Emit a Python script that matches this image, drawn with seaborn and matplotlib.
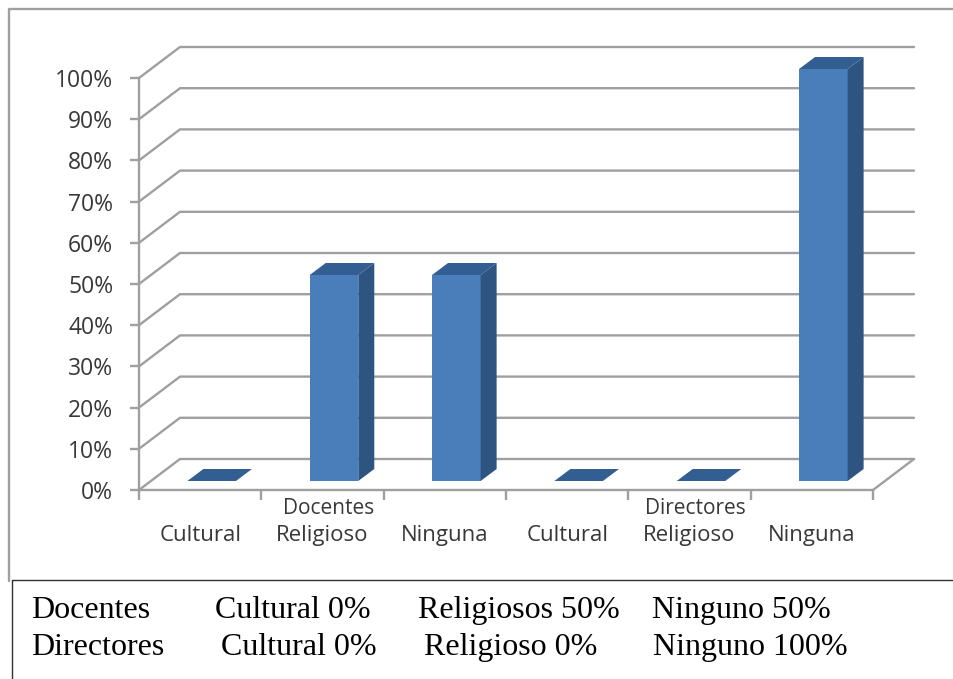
#!/usr/bin/env python3
"""Docentes / Directores percent bars drawn with a fake 3D depth, plus the small text table below."""

import numpy as np
import pandas as pd
import matplotlib
matplotlib.use("Agg")
import matplotlib.pyplot as plt
import seaborn as sns
from matplotlib.patches import Polygon
from matplotlib.transforms import Affine2D, IdentityTransform

# === Data ===
bar_keys = ["doc_cul", "doc_rel", "doc_nin", "dir_cul", "dir_rel", "dir_nin"]
bar_labels = ["Cultural", "Religioso", "Ninguna", "Cultural", "Religioso", "Ninguna"]
percent_values = [0, 50, 50, 0, 0, 100]
y_ticks = [0, 10, 20, 30, 40, 50, 60, 70, 80, 90, 100]
group_labels = ["Docentes", "Directores"]
table_rows = [
    ["Docentes", "Cultural 0%", "Religiosos 50%", "Ninguno 50%"],
    ["Directores", "Cultural 0%", "Religioso 0%", "Ninguno 100%"],
]

W, H = 954, 679
GRID = "#9f9f9f"
FRONT = "#4a7ebb"
SIDE = "#2e5482"
TOP = "#335e92"
LABEL = "#383838"

# wall depth and bar depth, in pixels
WALL = np.array([41, 31])
BAR_SHIFT = np.array([11.5, 9])
BAR_DEPTH = np.array([16, 12])


def px_x(x):
    return x / W


def px_y(y):
    return 1 - y / H


def main():
    sns.set_theme(style="white")
    plt.rcParams["font.family"] = ["Open Sans", "DejaVu Sans"]

    fig = plt.figure(figsize=(W / 100, H / 100), dpi=100)
    ax = fig.add_axes([px_x(139), px_y(490), (873 - 139) / W, 412 / H])
    ax.patch.set_visible(False)

    df = pd.DataFrame({"key": bar_keys, "value": percent_values})
    sns.barplot(data=df, x="key", y="value", color=FRONT, saturation=1,
                width=0.397, errorbar=None, linewidth=0, ax=ax, zorder=5)
    ax.set_xlim(-0.5, 5.5)
    ax.set_ylim(0, 100)
    ax.set_xlabel("")
    ax.set_ylabel("")

    # walls: back grid lines and the diagonal links to the front axis
    px = IdentityTransform()
    to_px = ax.transData.transform
    for tick in y_ticks:
        front = to_px((-0.5, tick))
        back_l = front + WALL
        back_r = to_px((5.5, tick)) + WALL
        ax.plot([front[0], back_l[0], back_r[0]], [front[1], back_l[1], back_r[1]],
                color=GRID, lw=1.7, transform=px, clip_on=False, zorder=1)
    floor_r = to_px((5.5, 0))
    ax.plot([floor_r[0], floor_r[0] + WALL[0]], [floor_r[1], floor_r[1] + WALL[1]],
            color=GRID, lw=1.7, transform=px, clip_on=False, zorder=1)

    # bars: move the front face in, then add side and top faces
    move = Affine2D().translate(*BAR_SHIFT)
    for patch in ax.patches:
        patch.set_transform(ax.transData + move)
        patch.set_clip_on(False)
        x0, w, h = patch.get_x(), patch.get_width(), patch.get_height()
        bl = to_px((x0, 0)) + BAR_SHIFT
        br = to_px((x0 + w, 0)) + BAR_SHIFT
        tl = to_px((x0, h)) + BAR_SHIFT
        tr = to_px((x0 + w, h)) + BAR_SHIFT
        if h > 0:
            ax.add_patch(Polygon([br, tr, tr + BAR_DEPTH, br + BAR_DEPTH], closed=True,
                                 fc=SIDE, ec="none", transform=px, clip_on=False, zorder=5))
        ax.add_patch(Polygon([tl, tr, tr + BAR_DEPTH, tl + BAR_DEPTH], closed=True,
                             fc=TOP, ec="none", transform=px, clip_on=False, zorder=5))

    # axes
    sns.despine(ax=ax, top=True, right=True)
    for side in ["left", "bottom"]:
        ax.spines[side].set_color(GRID)
        ax.spines[side].set_linewidth(1.7)
    ax.set_yticks(y_ticks, [f"{t}%" for t in y_ticks])
    ax.set_xticks(range(len(bar_labels)), bar_labels)
    ax.set_xticks(np.arange(-0.5, 6), minor=True)
    ax.tick_params(axis="y", length=6.5, width=1.7, color=GRID, pad=12,
                   labelsize=16.5, labelcolor=LABEL, left=True)
    ax.tick_params(axis="x", which="major", length=0, pad=25, labelsize=16, labelcolor=LABEL)
    ax.tick_params(axis="x", which="minor", length=7.5, width=1.7, color=GRID, bottom=True)
    for label in ax.get_xticklabels():
        label.set_x(label.get_position()[0])

    # group names sit above the middle label of each group
    for name, pos in zip(group_labels, [1.05, 4.05]):
        ax.annotate(name, xy=(pos, 0), xytext=(0, -19), xycoords="data", textcoords="offset pixels",
                    ha="center", va="center", fontsize=15, color=LABEL, annotation_clip=False)

    # outer chart frame
    fig.add_artist(plt.Line2D([px_x(9), px_x(9), 1], [px_y(581), px_y(9), px_y(9)],
                              color=GRID, lw=1.7))

    # text table below
    fig.add_artist(plt.Line2D([px_x(12), px_x(12)], [0, px_y(580)], color="#303030", lw=1))
    fig.add_artist(plt.Line2D([px_x(12), 1], [px_y(580), px_y(580)], color="#303030", lw=1))
    col_x = [[31, 215, 418, 652], [31, 221, 424, 653]]
    row_y = [618, 655]
    for row, xs, y in zip(table_rows, col_x, row_y):
        for text, x in zip(row, xs):
            fig.text(px_x(x), px_y(y), text, family="Liberation Serif", fontsize=23,
                     color="black", ha="left", va="baseline")

    fig.savefig("out.png", dpi=100, facecolor="white")
    plt.close(fig)


if __name__ == "__main__":
    main()
